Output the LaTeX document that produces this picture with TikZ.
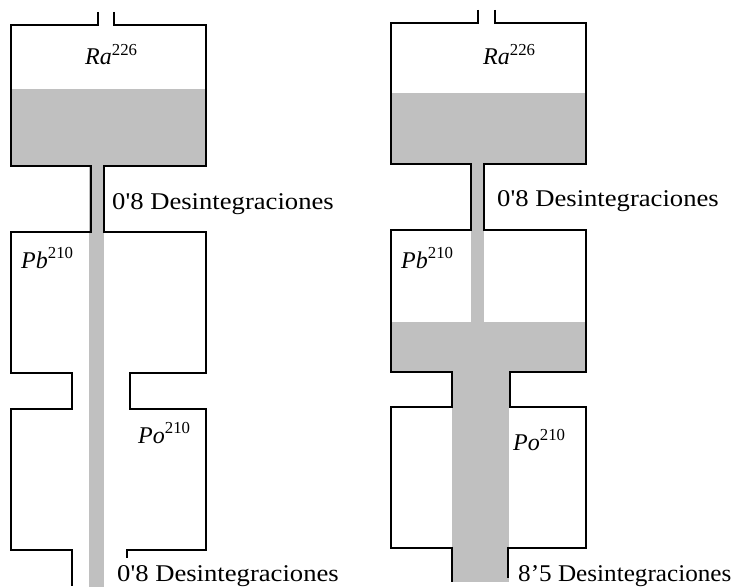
\documentclass[tikz,border=0pt]{standalone}
\usepackage{fontspec}
\setmainfont{Liberation Serif}
\begin{document}
\begin{tikzpicture}[x=1pt,y=-1pt,
  wall/.style={draw=black,line width=1.3pt,line join=miter},
  liquid/.style={fill=fluid,draw=none},
  isotope/.style={anchor=base west,inner sep=0pt,font=\fontsize{24}{24}\selectfont\itshape},
  rate/.style={anchor=base west,inner sep=0pt,font=\fontsize{24}{24}\selectfont,xscale=1.11}]
\definecolor{fluid}{HTML}{C0C0C0}
\useasboundingbox[fill=white] (0,0) rectangle (733,588);

% ---------- first column: steady flow ----------
\fill[liquid] (11,89) rectangle (206,166);
\fill[liquid] (89,166) rectangle (104,587);
\draw[wall] (98,12) -- (98,25) -- (11,25) -- (11,166) -- (91,166) -- (91,232)
  -- (11,232) -- (11,373) -- (72,373) -- (72,409) -- (11,409) -- (11,550)
  -- (72,550) -- (72,586);
\draw[wall] (114,12) -- (114,25) -- (206,25) -- (206,166) -- (104,166) -- (104,232)
  -- (206,232) -- (206,373) -- (130,373) -- (130,409) -- (206,409) -- (206,550)
  -- (127,550) -- (127,558);
\node[isotope] (ra1) at (85,65) {Ra\textsuperscript{\upshape 226}};
\node[isotope] (pb1) at (21,268) {Pb\textsuperscript{\upshape 210}};
\node[isotope] (po1) at (138,443) {Po\textsuperscript{\upshape 210}};
\node[rate] (r1a) at (112,210) {0\textquotesingle8 Desintegraciones};
\node[rate] (r1b) at (117,581) {0\textquotesingle8 Desintegraciones};

% ---------- second column: lead reservoir filling ----------
\fill[liquid] (391,93) rectangle (586,164);
\fill[liquid] (471,164) rectangle (484,322);
\fill[liquid] (391,322) rectangle (586,372);
\fill[liquid] (452,372) rectangle (509,582);
\draw[wall] (478,10) -- (478,23) -- (391,23) -- (391,164) -- (471,164) -- (471,230)
  -- (391,230) -- (391,372) -- (452,372) -- (452,407) -- (391,407) -- (391,548)
  -- (452,548) -- (452,582);
\draw[wall] (495,10) -- (495,23) -- (586,23) -- (586,164) -- (484,164) -- (484,230)
  -- (586,230) -- (586,372) -- (510,372) -- (510,407) -- (586,407) -- (586,548)
  -- (508,548) -- (508,578);
\node[isotope] (ra2) at (483,65) {Ra\textsuperscript{\upshape 226}};
\node[isotope] (pb2) at (401,268) {Pb\textsuperscript{\upshape 210}};
\node[isotope] (po2) at (513,450) {Po\textsuperscript{\upshape 210}};
\node[rate] (r2a) at (497,206) {0\textquotesingle8 Desintegraciones};
\node[rate,xscale=0.945] (r2b) at (518,581) {8\textquoteright5 Desintegraciones};
\end{tikzpicture}
\end{document}
